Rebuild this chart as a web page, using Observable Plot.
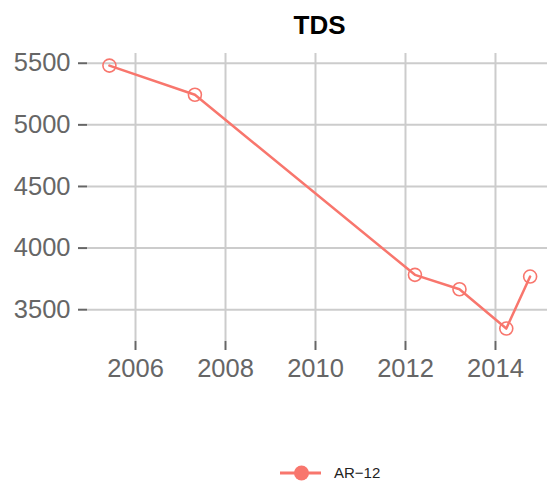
<!DOCTYPE html>
<html>
<head>
<meta charset="utf-8">
<script src="https://cdn.jsdelivr.net/npm/d3@7"></script>
<script src="https://cdn.jsdelivr.net/npm/@observablehq/plot@0.6"></script>
<style>
  html, body { margin: 0; padding: 0; background: white; }
  body { width: 547px; height: 483px; overflow: hidden; font-family: "Liberation Sans", Arial, sans-serif; }
</style>
</head>
<body>
<div id="chart"></div>
<div id="legend"></div>
<script>
const title = "TDS";
const seriesName = "AR\u221212";
const years = [2005.42, 2007.32, 2012.21, 2013.2, 2014.24, 2014.77];
const tds = [5481, 5244, 3783, 3666, 3347, 3769];
const xTicks = [2006, 2008, 2010, 2012, 2014];
const yTicks = [3500, 4000, 4500, 5000, 5500];
const color = "#F8766D";

const data = years.map((y, i) => ({year: y, tds: tds[i], series: seriesName}));

const chart = Plot.plot({
  width: 547,
  height: 400,
  marginTop: 53,
  marginBottom: 59,
  marginLeft: 87,
  marginRight: 0,
  style: {fontFamily: "'Liberation Sans', Arial, sans-serif", background: "white", color: "#666"},
  x: {domain: [2004.933, 2015.156]},
  y: {domain: [3242, 5579]},
  marks: [
    Plot.gridX(xTicks, {stroke: "#cccccc", strokeOpacity: 1, strokeWidth: 2}),
    Plot.gridY(yTicks, {stroke: "#cccccc", strokeOpacity: 1, strokeWidth: 2}),
    Plot.axisX(xTicks, {tickSize: 9, tickPadding: 8, tickFormat: d => String(d), fontSize: 25.5, strokeWidth: 2, label: null}),
    Plot.axisY(yTicks, {tickSize: 9, tickPadding: 8, tickFormat: d => String(d), fontSize: 25.5, strokeWidth: 2, label: null}),
    Plot.line(data, {x: "year", y: "tds", stroke: color, strokeWidth: 2.5}),
    Plot.dot(data, {x: "year", y: "tds", r: 6.5, stroke: color, fill: "none", strokeWidth: 1.6}),
    Plot.text([title], {frameAnchor: "top", lineAnchor: "middle", dy: -28, dx: 2, fontSize: 26, fontWeight: "bold", fill: "black"})
  ]
});
document.getElementById("chart").appendChild(chart);

// legend
const lg = d3.select("#legend").append("svg")
  .attr("width", 547).attr("height", 83)
  .style("display", "block");
const cy = 73;
const g = lg.append("g").attr("transform", `translate(280,${cy})`);
g.append("line").attr("x1", 0).attr("x2", 41).attr("y1", 0).attr("y2", 0)
  .attr("stroke", color).attr("stroke-width", 3);
g.append("circle").attr("cx", 21.5).attr("cy", 0).attr("r", 7.5).attr("fill", color);
g.append("text").attr("x", 54).attr("y", 0).attr("dy", "0.36em")
  .attr("font-size", 15).attr("fill", "#222")
  .attr("font-family", "'Liberation Sans', Arial, sans-serif")
  .text(seriesName);
</script>
</body>
</html>
